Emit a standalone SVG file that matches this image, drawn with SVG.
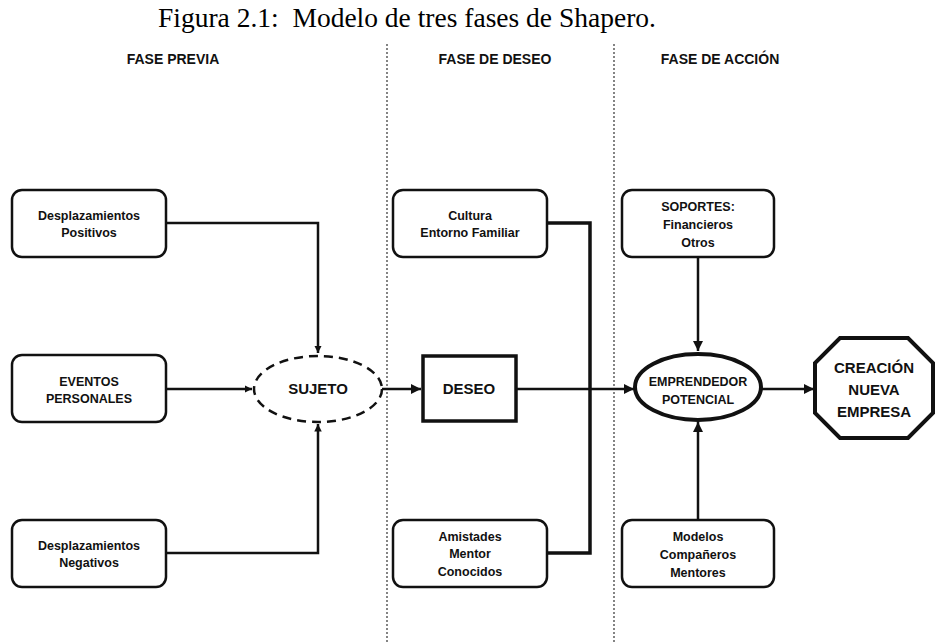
<svg xmlns="http://www.w3.org/2000/svg" width="936" height="644" viewBox="0 0 936 644">
<style>
.title{font-family:"Liberation Serif",serif;font-size:27.5px;fill:#000;white-space:pre}
.hdr{font-family:"Liberation Sans",Arial,sans-serif;font-size:14px;font-weight:bold;fill:#111;text-anchor:middle}
.t{font-family:"Liberation Sans",Arial,sans-serif;font-size:12.5px;font-weight:bold;fill:#111;text-anchor:middle}
.tb{font-family:"Liberation Sans",Arial,sans-serif;font-size:15px;font-weight:bold;fill:#111;text-anchor:middle}
.box{fill:#fff;stroke:#111;stroke-width:2.5}
.sep{stroke:#333;stroke-width:1.2;stroke-dasharray:2 2;fill:none}
.ln{stroke:#111;stroke-width:2.5;fill:none}
.lnt{stroke:#111;stroke-width:3.5;fill:none}
</style>
<defs>
<marker id="ah" viewBox="0 0 10 10" refX="10" refY="5" markerWidth="4" markerHeight="4" orient="auto" markerUnits="strokeWidth">
<path d="M0,0 L10,5 L0,10 z" fill="#111"/>
</marker>
<marker id="ahs" viewBox="0 0 10 10" refX="10" refY="5" markerWidth="3" markerHeight="3" orient="auto" markerUnits="strokeWidth">
<path d="M0,0 L10,5 L0,10 z" fill="#111"/>
</marker>
</defs>
<rect width="936" height="644" fill="#fff"/>
<text class="title" x="158" y="27" xml:space="preserve">Figura 2.1:  Modelo de tres fases de Shapero.</text>
<g id="separators">
<line class="sep" x1="387" y1="44" x2="387" y2="644"/>
<line class="sep" x1="614" y1="44" x2="614" y2="644"/>
</g>
<g id="headers">
<text class="hdr" x="173" y="64">FASE PREVIA</text>
<text class="hdr" x="495" y="64">FASE DE DESEO</text>
<text class="hdr" x="720" y="64">FASE DE ACCIÓN</text>
</g>
<g id="connectors">
<polyline class="ln" points="166,223 318,223 318,353" marker-end="url(#ahs)"/>
<line class="ln" x1="166" y1="389" x2="252" y2="389" marker-end="url(#ahs)"/>
<polyline class="ln" points="166,553 318,553 318,424" marker-end="url(#ahs)"/>
<line class="ln" x1="382" y1="389" x2="421" y2="389" marker-end="url(#ah)"/>
<polyline class="lnt" points="547,223 590,223 590,553 547,553"/>
<line class="ln" x1="516" y1="389" x2="634" y2="389" marker-end="url(#ah)"/>
<line class="ln" x1="698" y1="257" x2="698" y2="351" marker-end="url(#ah)"/>
<line class="ln" x1="698" y1="520" x2="698" y2="422" marker-end="url(#ah)"/>
<line class="ln" x1="762" y1="389" x2="814" y2="389" stroke-width="4" marker-end="url(#ah)"/>
</g>
<g id="desp-positivos">
<rect class="box" x="12" y="190" width="154" height="67" rx="10"/>
<text class="t" x="89" y="220">Desplazamientos</text>
<text class="t" x="89" y="237">Positivos</text>
</g>
<g id="eventos">
<rect class="box" x="12" y="355" width="154" height="67" rx="10"/>
<text class="t" x="89" y="386">EVENTOS</text>
<text class="t" x="89" y="403">PERSONALES</text>
</g>
<g id="desp-negativos">
<rect class="box" x="12" y="520" width="154" height="67" rx="10"/>
<text class="t" x="89" y="550">Desplazamientos</text>
<text class="t" x="89" y="567">Negativos</text>
</g>
<g id="sujeto">
<ellipse cx="318" cy="389" rx="64" ry="33" fill="#fff" stroke="#111" stroke-width="2.5" stroke-dasharray="9 6"/>
<text class="tb" x="318" y="394">SUJETO</text>
</g>
<g id="deseo">
<rect x="423" y="356" width="93" height="65" fill="#fff" stroke="#111" stroke-width="3.5"/>
<text class="tb" x="469" y="394">DESEO</text>
</g>
<g id="cultura">
<rect class="box" x="393" y="190" width="154" height="67" rx="10"/>
<text class="t" x="470" y="220">Cultura</text>
<text class="t" x="470" y="237">Entorno Familiar</text>
</g>
<g id="amistades">
<rect class="box" x="393" y="520" width="154" height="67" rx="10"/>
<text class="t" x="470" y="541">Amistades</text>
<text class="t" x="470" y="558">Mentor</text>
<text class="t" x="470" y="576">Conocidos</text>
</g>
<g id="soportes">
<rect class="box" x="622" y="190" width="152" height="67" rx="10"/>
<text class="t" x="698" y="211">SOPORTES:</text>
<text class="t" x="698" y="229">Financieros</text>
<text class="t" x="698" y="247">Otros</text>
</g>
<g id="emprendedor">
<ellipse cx="698" cy="387" rx="63" ry="33" fill="#fff" stroke="#111" stroke-width="4"/>
<text class="t" x="698" y="386" font-size="13.5">EMPRENDEDOR</text>
<text class="t" x="698" y="404" font-size="13.5">POTENCIAL</text>
</g>
<g id="creacion">
<polygon points="840,338 908,338 933,363 933,413 908,438 840,438 815,413 815,363" fill="#fff" stroke="#111" stroke-width="4"/>
<text class="tb" x="874" y="373">CREACIÓN</text>
<text class="tb" x="874" y="395">NUEVA</text>
<text class="tb" x="874" y="417">EMPRESA</text>
</g>
<g id="modelos">
<rect class="box" x="622" y="520" width="152" height="67" rx="10"/>
<text class="t" x="698" y="541">Modelos</text>
<text class="t" x="698" y="559">Compañeros</text>
<text class="t" x="698" y="577">Mentores</text>
</g>
</svg>
